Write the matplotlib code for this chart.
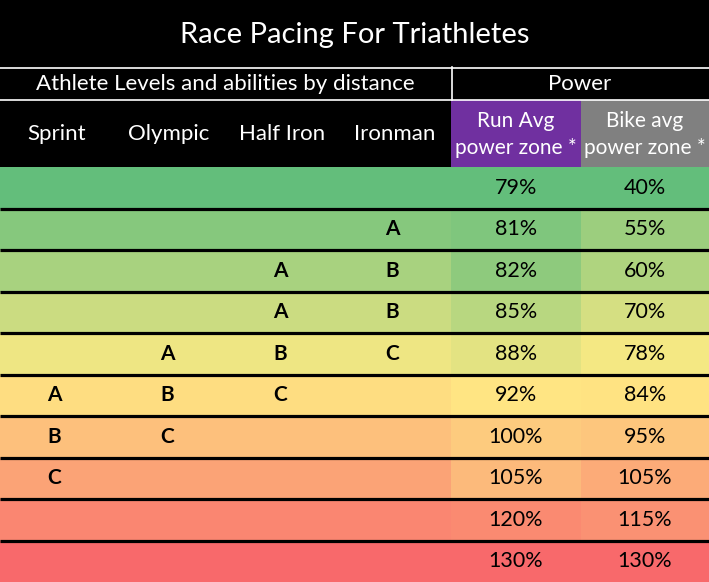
import matplotlib
matplotlib.use("Agg")
import matplotlib.pyplot as plt
from matplotlib.patches import Rectangle

# ---------------- data ----------------
title = "Race Pacing For Triathletes"
group_left = "Athlete Levels and abilities by distance"
group_right = "Power"
distance_cols = ["Sprint", "Olympic", "Half Iron", "Ironman"]
power_cols = ["Run Avg\npower zone *", "Bike avg\npower zone *"]

sprint = ["", "", "", "", "", "A", "B", "C", "", ""]
olympic = ["", "", "", "", "A", "B", "C", "", "", ""]
half_iron = ["", "", "A", "A", "B", "C", "", "", "", ""]
ironman = ["", "A", "B", "B", "C", "", "", "", "", ""]
run_power = [79, 81, 82, 85, 88, 92, 100, 105, 120, 130]
bike_power = [40, 55, 60, 70, 78, 84, 95, 105, 115, 130]

# ---------------- style ----------------
FONT = ["Lato", "DejaVu Sans"]
plt.rcParams["font.family"] = FONT
GREEN = (0x63, 0xBE, 0x7B)
YELLOW = (0xFF, 0xEB, 0x84)
RED = (0xF8, 0x69, 0x6B)
PURPLE = "#7030A0"
GREY = "#808080"

W, H = 709, 582
TITLE_H = 67
GROUP_H = 33
HEAD_H = 67
BODY_TOP = TITLE_H + GROUP_H + HEAD_H
LEFT_W = 451
POW_W = [130, 128]


def median(vals):
    s = sorted(vals)
    n = len(s)
    return (s[n // 2] + s[(n - 1) // 2]) / 2


def scale_color(v, vals):
    lo, hi, mid = min(vals), max(vals), median(vals)
    if v <= mid:
        t = (v - lo) / (mid - lo) if mid > lo else 0
        a, b = GREEN, YELLOW
    else:
        t = (v - mid) / (hi - mid) if hi > mid else 0
        a, b = YELLOW, RED
    return tuple((a[i] + t * (b[i] - a[i])) / 255 for i in range(3))


fig = plt.figure(figsize=(W / 100, H / 100), dpi=100, facecolor="black")
ax = fig.add_axes([0, 0, 1, 1])
ax.set_xlim(0, W)
ax.set_ylim(H, 0)
ax.axis("off")
ax.add_patch(Rectangle((0, 0), W, H, color="black", zorder=0))

# title
ax.text(W / 2, TITLE_H / 2 + 1, title, color="white", fontsize=21,
        ha="center", va="center")

# group header
ax.plot([0, W], [TITLE_H + 0.5, TITLE_H + 0.5], color="white", lw=1.2)
ax.plot([0, W], [TITLE_H + GROUP_H - 0.5, TITLE_H + GROUP_H - 0.5], color="white", lw=1.2)
ax.plot([LEFT_W + 0.5, LEFT_W + 0.5], [TITLE_H, TITLE_H + GROUP_H], color="white", lw=1.2)
gy = TITLE_H + GROUP_H / 2 + 1
ax.text(LEFT_W / 2, gy, group_left, color="white", fontsize=16, ha="center", va="center")
ax.text(LEFT_W + (W - LEFT_W) / 2, gy, group_right, color="white", fontsize=16,
        ha="center", va="center")

# column headers
col_w = LEFT_W / len(distance_cols)
hy = TITLE_H + GROUP_H
for i, name in enumerate(distance_cols):
    ax.text(col_w * (i + 0.5), hy + HEAD_H / 2, name, color="white", fontsize=16,
            ha="center", va="center")
px = LEFT_W
for name, w, c in zip(power_cols, POW_W, [PURPLE, GREY]):
    ax.add_patch(Rectangle((px, hy), w + 1, HEAD_H, color=c, lw=0))
    ax.text(px + w / 2, hy + HEAD_H / 2 + 1, name, color="white", fontsize=15,
            ha="center", va="center", linespacing=1.45)
    px += w

# body
n = len(run_power)
row_h = (H - BODY_TOP) / n
left_cols = [sprint, olympic, half_iron, ironman]
idx = list(range(1, n + 1))
for r in range(n):
    y0 = BODY_TOP + r * row_h
    yc = y0 + row_h / 2
    ax.add_patch(Rectangle((0, y0), LEFT_W, row_h, color=scale_color(r + 1, idx), lw=0))
    for ci, col in enumerate(left_cols):
        if col[r]:
            ax.text(col_w * (ci + 0.5) - 2, yc, col[r], color="black", fontsize=15,
                    fontweight="bold", ha="center", va="center")
    px = LEFT_W
    for vals, w in zip([run_power, bike_power], POW_W):
        ax.add_patch(Rectangle((px, y0), w + 1, row_h, color=scale_color(vals[r], vals), lw=0))
        ax.text(px + w / 2, yc, f"{vals[r]}%", color="black", fontsize=15.5,
                ha="center", va="center")
        px += w
    if r > 0:
        ax.plot([0, W], [y0, y0], color="black", lw=2.3, solid_capstyle="butt")

fig.savefig("out.png", dpi=100, facecolor="black")
